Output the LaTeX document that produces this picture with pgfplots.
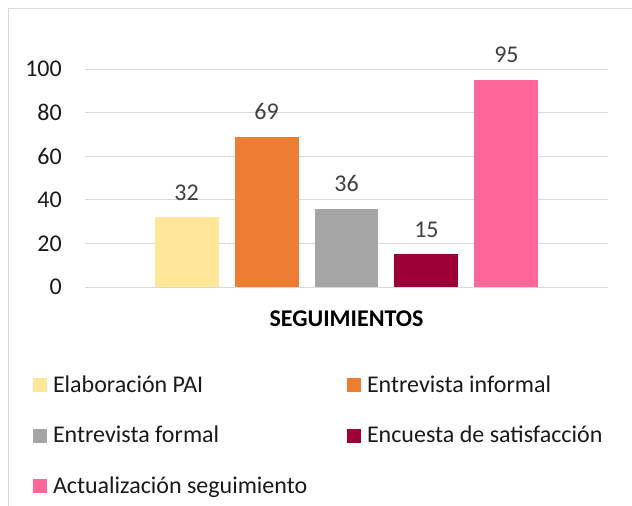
\documentclass[border=0pt]{standalone}
\usepackage{fontspec}
\setmainfont{Carlito}
\usepackage{pgfplots}
\pgfplotsset{compat=1.18}
\definecolor{cpai}{HTML}{FFE699}
\definecolor{cinformal}{HTML}{ED7D31}
\definecolor{cformal}{HTML}{A5A5A5}
\definecolor{cencuesta}{HTML}{9C0036}
\definecolor{cactual}{HTML}{FF6699}
\definecolor{cgrid}{HTML}{D9D9D9}
\definecolor{ctext}{HTML}{1A1A1A}
\definecolor{clabel}{HTML}{404040}
\newcommand{\fs}{\fontsize{24}{28.8}\selectfont}
% fixed row height for legend entries
\newcommand{\legtxt}[2]{\makebox[#1][l]{\hspace{6pt}\rule[-7pt]{0pt}{27pt}#2}}

\begin{document}
\begin{tikzpicture}[x=1pt,y=1pt]
\path[use as bounding box] (0,0) rectangle (632,-506);
% chart border (cropped on the right and bottom)
\draw[cgrid, line width=1pt] (8,-520) -- (8,-8.5) -- (645,-8.5);
\begin{axis}[
    at={(85pt,-287pt)}, anchor=south west,
    scale only axis, width=523pt, height=218pt,
    xmin=-1.27, xmax=5.27,
    ymin=0, ymax=100,
    ytick={0,20,...,100},
    xtick=\empty,
    ybar, bar width=0.8, bar shift=0pt,
    axis line style={draw=none},
    major tick length=0pt,
    ymajorgrids,
    major grid style={cgrid, line width=1pt},
    clip=false,
    /pgf/number format/assume math mode=true,
    ticklabel style={font=\fs, text=ctext},
    yticklabel style={inner sep=0pt, xshift=-23pt},
    nodes near coords,
    every node near coord/.append style={font=\fs, text=clabel, anchor=base, inner sep=0pt, yshift=17pt},
    xlabel={\textbf{SEGUIMIENTOS}},
    xlabel style={font=\fs, text=black, inner sep=0pt, at={(axis description cs:0.5,-0.147)}, anchor=center},
    legend columns=2,
    legend style={draw=none, fill=none, inner sep=0pt, outer sep=0pt,
        at={(axis description cs:-0.0994,-0.390)}, anchor=north west,
        row sep=29pt, column sep=0pt,
        nodes={inner sep=0pt, outer sep=0pt, font=\fs, text=ctext},
        cells={anchor=base west}},
    legend image code/.code={\fill[#1] (0pt,0pt) rectangle (14pt,14pt);},
]
\addplot[fill=cpai, draw=none] coordinates {(0,32)};
\addlegendentry{\legtxt{300pt}{Elaboración PAI}}
\addplot[fill=cinformal, draw=none] coordinates {(1,69)};
\addlegendentry{\legtxt{250pt}{Entrevista informal}}
\addplot[fill=cformal, draw=none] coordinates {(2,36)};
\addlegendentry{\legtxt{300pt}{Entrevista formal}}
\addplot[fill=cencuesta, draw=none] coordinates {(3,15)};
\addlegendentry{\legtxt{250pt}{Encuesta de satisfacción}}
\addplot[fill=cactual, draw=none] coordinates {(4,95)};
\addlegendentry{\legtxt{300pt}{Actualización seguimiento}}
\end{axis}
\end{tikzpicture}
\end{document}
